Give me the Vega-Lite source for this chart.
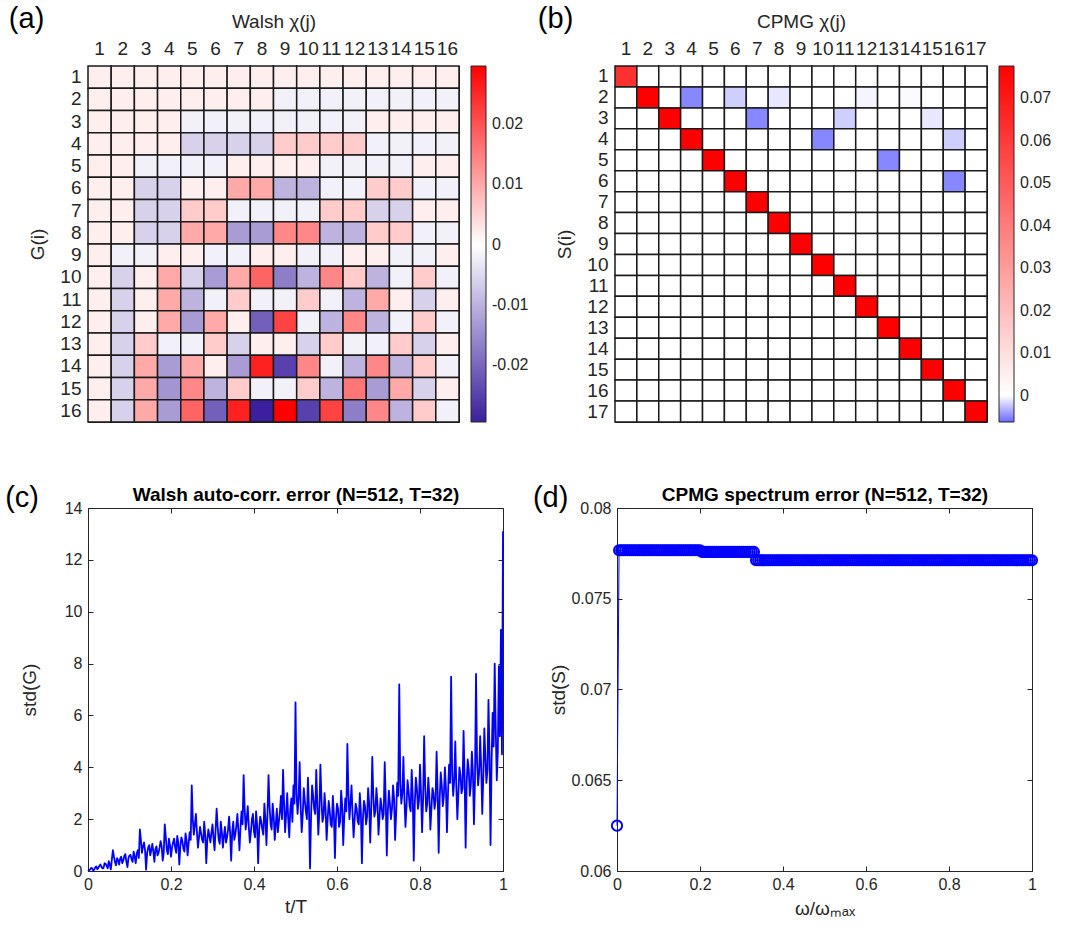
{
"$schema":"https://vega.github.io/schema/vega-lite/v6.json",
"padding":{"left":4,"top":4,"right":0,"bottom":0},
"config":{"font":"Liberation Sans","view":{"stroke":"#262626","strokeWidth":1},
"axis":{"labelFontSize":19,"titleFontSize":19,"labelColor":"#262626","titleColor":"#262626","titleFontWeight":"normal","grid":false,"domainColor":"#262626","tickColor":"#262626","labelFont":"Liberation Sans","titleFont":"Liberation Sans","labelFlush":false},
"legend":{"labelFontSize":16,"labelColor":"#262626","labelFont":"Liberation Sans"},
"title":{"fontSize":29,"fontWeight":"normal","color":"#000000","anchor":"start","font":"Liberation Sans"}},
"vconcat":[
{"hconcat":[
{"width":371,"height":356,
"title":{"text":"(a)","frame":"bounds","dx":-20,"dy":26},
"data":{"values":[
{"i":1,"j":1,"v":0.002},{"i":1,"j":2,"v":0.002},{"i":1,"j":3,"v":0.002},{"i":1,"j":4,"v":0.002},{"i":1,"j":5,"v":0.002},{"i":1,"j":6,"v":0.002},{"i":1,"j":7,"v":0.002},{"i":1,"j":8,"v":0.002},{"i":1,"j":9,"v":0.002},{"i":1,"j":10,"v":0.002},{"i":1,"j":11,"v":0.002},{"i":1,"j":12,"v":0.002},{"i":1,"j":13,"v":0.002},{"i":1,"j":14,"v":0.002},{"i":1,"j":15,"v":0.002},{"i":1,"j":16,"v":0.002},
{"i":2,"j":1,"v":0.002},{"i":2,"j":2,"v":0.002},{"i":2,"j":3,"v":0.002},{"i":2,"j":4,"v":0.002},{"i":2,"j":5,"v":0.002},{"i":2,"j":6,"v":0.002},{"i":2,"j":7,"v":0.002},{"i":2,"j":8,"v":0.002},{"i":2,"j":9,"v":-0.002},{"i":2,"j":10,"v":-0.002},{"i":2,"j":11,"v":-0.002},{"i":2,"j":12,"v":-0.002},{"i":2,"j":13,"v":-0.002},{"i":2,"j":14,"v":-0.002},{"i":2,"j":15,"v":-0.002},{"i":2,"j":16,"v":-0.002},
{"i":3,"j":1,"v":0.002},{"i":3,"j":2,"v":0.002},{"i":3,"j":3,"v":0.002},{"i":3,"j":4,"v":0.002},{"i":3,"j":5,"v":-0.002},{"i":3,"j":6,"v":-0.002},{"i":3,"j":7,"v":-0.002},{"i":3,"j":8,"v":-0.002},{"i":3,"j":9,"v":-0.002},{"i":3,"j":10,"v":-0.002},{"i":3,"j":11,"v":-0.002},{"i":3,"j":12,"v":-0.002},{"i":3,"j":13,"v":0.002},{"i":3,"j":14,"v":0.002},{"i":3,"j":15,"v":0.002},{"i":3,"j":16,"v":0.002},
{"i":4,"j":1,"v":0.002},{"i":4,"j":2,"v":0.002},{"i":4,"j":3,"v":0.002},{"i":4,"j":4,"v":0.002},{"i":4,"j":5,"v":-0.006},{"i":4,"j":6,"v":-0.006},{"i":4,"j":7,"v":-0.006},{"i":4,"j":8,"v":-0.006},{"i":4,"j":9,"v":0.006},{"i":4,"j":10,"v":0.006},{"i":4,"j":11,"v":0.006},{"i":4,"j":12,"v":0.006},{"i":4,"j":13,"v":-0.002},{"i":4,"j":14,"v":-0.002},{"i":4,"j":15,"v":-0.002},{"i":4,"j":16,"v":-0.002},
{"i":5,"j":1,"v":0.002},{"i":5,"j":2,"v":0.002},{"i":5,"j":3,"v":-0.002},{"i":5,"j":4,"v":-0.002},{"i":5,"j":5,"v":-0.002},{"i":5,"j":6,"v":-0.002},{"i":5,"j":7,"v":0.002},{"i":5,"j":8,"v":0.002},{"i":5,"j":9,"v":0.002},{"i":5,"j":10,"v":0.002},{"i":5,"j":11,"v":-0.002},{"i":5,"j":12,"v":-0.002},{"i":5,"j":13,"v":-0.002},{"i":5,"j":14,"v":-0.002},{"i":5,"j":15,"v":0.002},{"i":5,"j":16,"v":0.002},
{"i":6,"j":1,"v":0.002},{"i":6,"j":2,"v":0.002},{"i":6,"j":3,"v":-0.006},{"i":6,"j":4,"v":-0.006},{"i":6,"j":5,"v":0.002},{"i":6,"j":6,"v":0.002},{"i":6,"j":7,"v":0.01},{"i":6,"j":8,"v":0.01},{"i":6,"j":9,"v":-0.01},{"i":6,"j":10,"v":-0.01},{"i":6,"j":11,"v":-0.002},{"i":6,"j":12,"v":-0.002},{"i":6,"j":13,"v":0.006},{"i":6,"j":14,"v":0.006},{"i":6,"j":15,"v":-0.002},{"i":6,"j":16,"v":-0.002},
{"i":7,"j":1,"v":0.002},{"i":7,"j":2,"v":0.002},{"i":7,"j":3,"v":-0.006},{"i":7,"j":4,"v":-0.006},{"i":7,"j":5,"v":0.006},{"i":7,"j":6,"v":0.006},{"i":7,"j":7,"v":-0.002},{"i":7,"j":8,"v":-0.002},{"i":7,"j":9,"v":-0.002},{"i":7,"j":10,"v":-0.002},{"i":7,"j":11,"v":0.006},{"i":7,"j":12,"v":0.006},{"i":7,"j":13,"v":-0.006},{"i":7,"j":14,"v":-0.006},{"i":7,"j":15,"v":0.002},{"i":7,"j":16,"v":0.002},
{"i":8,"j":1,"v":0.002},{"i":8,"j":2,"v":0.002},{"i":8,"j":3,"v":-0.006},{"i":8,"j":4,"v":-0.006},{"i":8,"j":5,"v":0.01},{"i":8,"j":6,"v":0.01},{"i":8,"j":7,"v":-0.013},{"i":8,"j":8,"v":-0.013},{"i":8,"j":9,"v":0.014},{"i":8,"j":10,"v":0.014},{"i":8,"j":11,"v":-0.01},{"i":8,"j":12,"v":-0.01},{"i":8,"j":13,"v":0.006},{"i":8,"j":14,"v":0.006},{"i":8,"j":15,"v":-0.002},{"i":8,"j":16,"v":-0.002},
{"i":9,"j":1,"v":0.002},{"i":9,"j":2,"v":-0.002},{"i":9,"j":3,"v":-0.002},{"i":9,"j":4,"v":0.002},{"i":9,"j":5,"v":0.002},{"i":9,"j":6,"v":-0.002},{"i":9,"j":7,"v":-0.002},{"i":9,"j":8,"v":0.002},{"i":9,"j":9,"v":0.002},{"i":9,"j":10,"v":-0.002},{"i":9,"j":11,"v":-0.002},{"i":9,"j":12,"v":0.002},{"i":9,"j":13,"v":0.002},{"i":9,"j":14,"v":-0.002},{"i":9,"j":15,"v":-0.002},{"i":9,"j":16,"v":0.002},
{"i":10,"j":1,"v":0.002},{"i":10,"j":2,"v":-0.006},{"i":10,"j":3,"v":0.002},{"i":10,"j":4,"v":0.01},{"i":10,"j":5,"v":-0.006},{"i":10,"j":6,"v":-0.013},{"i":10,"j":7,"v":0.01},{"i":10,"j":8,"v":0.018},{"i":10,"j":9,"v":-0.017},{"i":10,"j":10,"v":-0.01},{"i":10,"j":11,"v":0.014},{"i":10,"j":12,"v":0.006},{"i":10,"j":13,"v":-0.01},{"i":10,"j":14,"v":-0.002},{"i":10,"j":15,"v":0.006},{"i":10,"j":16,"v":-0.002},
{"i":11,"j":1,"v":0.002},{"i":11,"j":2,"v":-0.006},{"i":11,"j":3,"v":0.002},{"i":11,"j":4,"v":0.01},{"i":11,"j":5,"v":-0.01},{"i":11,"j":6,"v":-0.002},{"i":11,"j":7,"v":0.006},{"i":11,"j":8,"v":-0.002},{"i":11,"j":9,"v":-0.002},{"i":11,"j":10,"v":0.006},{"i":11,"j":11,"v":-0.002},{"i":11,"j":12,"v":-0.01},{"i":11,"j":13,"v":0.01},{"i":11,"j":14,"v":0.002},{"i":11,"j":15,"v":-0.006},{"i":11,"j":16,"v":0.002},
{"i":12,"j":1,"v":0.002},{"i":12,"j":2,"v":-0.006},{"i":12,"j":3,"v":0.002},{"i":12,"j":4,"v":0.01},{"i":12,"j":5,"v":-0.013},{"i":12,"j":6,"v":0.01},{"i":12,"j":7,"v":0.002},{"i":12,"j":8,"v":-0.021},{"i":12,"j":9,"v":0.022},{"i":12,"j":10,"v":-0.002},{"i":12,"j":11,"v":-0.01},{"i":12,"j":12,"v":0.014},{"i":12,"j":13,"v":-0.01},{"i":12,"j":14,"v":-0.002},{"i":12,"j":15,"v":0.006},{"i":12,"j":16,"v":-0.002},
{"i":13,"j":1,"v":0.002},{"i":13,"j":2,"v":-0.006},{"i":13,"j":3,"v":0.006},{"i":13,"j":4,"v":-0.002},{"i":13,"j":5,"v":-0.002},{"i":13,"j":6,"v":0.006},{"i":13,"j":7,"v":-0.006},{"i":13,"j":8,"v":0.002},{"i":13,"j":9,"v":0.002},{"i":13,"j":10,"v":-0.006},{"i":13,"j":11,"v":0.006},{"i":13,"j":12,"v":-0.002},{"i":13,"j":13,"v":-0.002},{"i":13,"j":14,"v":0.006},{"i":13,"j":15,"v":-0.006},{"i":13,"j":16,"v":0.002},
{"i":14,"j":1,"v":0.002},{"i":14,"j":2,"v":-0.006},{"i":14,"j":3,"v":0.01},{"i":14,"j":4,"v":-0.013},{"i":14,"j":5,"v":0.01},{"i":14,"j":6,"v":0.002},{"i":14,"j":7,"v":-0.013},{"i":14,"j":8,"v":0.026},{"i":14,"j":9,"v":-0.025},{"i":14,"j":10,"v":0.014},{"i":14,"j":11,"v":-0.002},{"i":14,"j":12,"v":-0.01},{"i":14,"j":13,"v":0.014},{"i":14,"j":14,"v":-0.01},{"i":14,"j":15,"v":0.006},{"i":14,"j":16,"v":-0.002},
{"i":15,"j":1,"v":0.002},{"i":15,"j":2,"v":-0.006},{"i":15,"j":3,"v":0.01},{"i":15,"j":4,"v":-0.014},{"i":15,"j":5,"v":0.014},{"i":15,"j":6,"v":-0.01},{"i":15,"j":7,"v":0.006},{"i":15,"j":8,"v":-0.002},{"i":15,"j":9,"v":-0.002},{"i":15,"j":10,"v":0.006},{"i":15,"j":11,"v":-0.01},{"i":15,"j":12,"v":0.016},{"i":15,"j":13,"v":-0.013},{"i":15,"j":14,"v":0.01},{"i":15,"j":15,"v":-0.006},{"i":15,"j":16,"v":0.002},
{"i":16,"j":1,"v":0.002},{"i":16,"j":2,"v":-0.006},{"i":16,"j":3,"v":0.01},{"i":16,"j":4,"v":-0.013},{"i":16,"j":5,"v":0.018},{"i":16,"j":6,"v":-0.021},{"i":16,"j":7,"v":0.026},{"i":16,"j":8,"v":-0.0295},{"i":16,"j":9,"v":0.0297},{"i":16,"j":10,"v":-0.025},{"i":16,"j":11,"v":0.022},{"i":16,"j":12,"v":-0.017},{"i":16,"j":13,"v":0.014},{"i":16,"j":14,"v":-0.01},{"i":16,"j":15,"v":0.006},{"i":16,"j":16,"v":-0.002}
]},
"mark":{"type":"rect","stroke":"#1a1a1a","strokeWidth":1.5},
"encoding":{
"x":{"field":"j","type":"ordinal","axis":{"orient":"top","title":"Walsh χ(j)","labelAngle":0,"ticks":false,"domain":false,"labelPadding":8,"titlePadding":8,"labelOverlap":false}},
"y":{"field":"i","type":"ordinal","axis":{"title":"G(i)","ticks":false,"domain":false,"labelPadding":7,"titlePadding":12,"labelOverlap":false}},
"color":{"field":"v","type":"quantitative","scale":{"domain":[-0.0295,0,0.0297],"range":["#3b1f9e","#ffffff","#ff0000"],"interpolate":"rgb"},
"legend":{"title":null,"values":[-0.02,-0.01,0,0.01,0.02],"gradientLength":356,"gradientThickness":15,"offset":12,"labelOffset":6,"labelOverlap":false,"gradientStrokeColor":"#262626","gradientStrokeWidth":1,"labelExpr":"(datum.value < 0 ? '-' : '') + format(abs(datum.value), '.2~f')"}}}},
{"width":372,"height":356,
"title":{"text":"(b)","frame":"bounds","dx":-18,"dy":26},
"data":{"values":[
{"i":1,"j":1,"v":0.063},{"i":1,"j":2,"v":0},{"i":1,"j":3,"v":0},{"i":1,"j":4,"v":0},{"i":1,"j":5,"v":0},{"i":1,"j":6,"v":0},{"i":1,"j":7,"v":0},{"i":1,"j":8,"v":0},{"i":1,"j":9,"v":0},{"i":1,"j":10,"v":0},{"i":1,"j":11,"v":0},{"i":1,"j":12,"v":0},{"i":1,"j":13,"v":0},{"i":1,"j":14,"v":0},{"i":1,"j":15,"v":0},{"i":1,"j":16,"v":0},{"i":1,"j":17,"v":0},
{"i":2,"j":1,"v":0},{"i":2,"j":2,"v":0.0776},{"i":2,"j":3,"v":0},{"i":2,"j":4,"v":-0.005},{"i":2,"j":5,"v":0},{"i":2,"j":6,"v":-0.002},{"i":2,"j":7,"v":0},{"i":2,"j":8,"v":-0.001},{"i":2,"j":9,"v":0},{"i":2,"j":10,"v":0},{"i":2,"j":11,"v":0},{"i":2,"j":12,"v":-0.0004},{"i":2,"j":13,"v":0},{"i":2,"j":14,"v":-0.0002},{"i":2,"j":15,"v":0},{"i":2,"j":16,"v":0.0003},{"i":2,"j":17,"v":0},
{"i":3,"j":1,"v":0},{"i":3,"j":2,"v":0},{"i":3,"j":3,"v":0.0776},{"i":3,"j":4,"v":0},{"i":3,"j":5,"v":0},{"i":3,"j":6,"v":0},{"i":3,"j":7,"v":-0.005},{"i":3,"j":8,"v":0},{"i":3,"j":9,"v":0},{"i":3,"j":10,"v":0},{"i":3,"j":11,"v":-0.002},{"i":3,"j":12,"v":0},{"i":3,"j":13,"v":0},{"i":3,"j":14,"v":0},{"i":3,"j":15,"v":-0.001},{"i":3,"j":16,"v":0},{"i":3,"j":17,"v":0},
{"i":4,"j":1,"v":0},{"i":4,"j":2,"v":0},{"i":4,"j":3,"v":0},{"i":4,"j":4,"v":0.0776},{"i":4,"j":5,"v":0},{"i":4,"j":6,"v":0},{"i":4,"j":7,"v":0},{"i":4,"j":8,"v":0},{"i":4,"j":9,"v":0},{"i":4,"j":10,"v":-0.005},{"i":4,"j":11,"v":0},{"i":4,"j":12,"v":0},{"i":4,"j":13,"v":0},{"i":4,"j":14,"v":0},{"i":4,"j":15,"v":0},{"i":4,"j":16,"v":-0.002},{"i":4,"j":17,"v":0},
{"i":5,"j":1,"v":0},{"i":5,"j":2,"v":0},{"i":5,"j":3,"v":0},{"i":5,"j":4,"v":0},{"i":5,"j":5,"v":0.0776},{"i":5,"j":6,"v":0},{"i":5,"j":7,"v":0},{"i":5,"j":8,"v":0},{"i":5,"j":9,"v":0},{"i":5,"j":10,"v":0},{"i":5,"j":11,"v":0},{"i":5,"j":12,"v":0},{"i":5,"j":13,"v":-0.005},{"i":5,"j":14,"v":0},{"i":5,"j":15,"v":0},{"i":5,"j":16,"v":0},{"i":5,"j":17,"v":0},
{"i":6,"j":1,"v":0},{"i":6,"j":2,"v":0},{"i":6,"j":3,"v":0},{"i":6,"j":4,"v":0},{"i":6,"j":5,"v":0},{"i":6,"j":6,"v":0.0776},{"i":6,"j":7,"v":0},{"i":6,"j":8,"v":0},{"i":6,"j":9,"v":0},{"i":6,"j":10,"v":0},{"i":6,"j":11,"v":0},{"i":6,"j":12,"v":0},{"i":6,"j":13,"v":0},{"i":6,"j":14,"v":0},{"i":6,"j":15,"v":0},{"i":6,"j":16,"v":-0.005},{"i":6,"j":17,"v":0},
{"i":7,"j":1,"v":0},{"i":7,"j":2,"v":0},{"i":7,"j":3,"v":0},{"i":7,"j":4,"v":0},{"i":7,"j":5,"v":0},{"i":7,"j":6,"v":0},{"i":7,"j":7,"v":0.0776},{"i":7,"j":8,"v":0},{"i":7,"j":9,"v":0},{"i":7,"j":10,"v":0},{"i":7,"j":11,"v":0},{"i":7,"j":12,"v":0},{"i":7,"j":13,"v":0},{"i":7,"j":14,"v":0},{"i":7,"j":15,"v":0},{"i":7,"j":16,"v":0},{"i":7,"j":17,"v":0},
{"i":8,"j":1,"v":0},{"i":8,"j":2,"v":0},{"i":8,"j":3,"v":0},{"i":8,"j":4,"v":0},{"i":8,"j":5,"v":0},{"i":8,"j":6,"v":0},{"i":8,"j":7,"v":0},{"i":8,"j":8,"v":0.0776},{"i":8,"j":9,"v":0},{"i":8,"j":10,"v":0},{"i":8,"j":11,"v":0},{"i":8,"j":12,"v":0},{"i":8,"j":13,"v":0},{"i":8,"j":14,"v":0},{"i":8,"j":15,"v":0},{"i":8,"j":16,"v":0},{"i":8,"j":17,"v":0},
{"i":9,"j":1,"v":0},{"i":9,"j":2,"v":0},{"i":9,"j":3,"v":0},{"i":9,"j":4,"v":0},{"i":9,"j":5,"v":0},{"i":9,"j":6,"v":0},{"i":9,"j":7,"v":0},{"i":9,"j":8,"v":0},{"i":9,"j":9,"v":0.0776},{"i":9,"j":10,"v":0},{"i":9,"j":11,"v":0},{"i":9,"j":12,"v":0},{"i":9,"j":13,"v":0},{"i":9,"j":14,"v":0},{"i":9,"j":15,"v":0},{"i":9,"j":16,"v":0},{"i":9,"j":17,"v":0},
{"i":10,"j":1,"v":0},{"i":10,"j":2,"v":0},{"i":10,"j":3,"v":0},{"i":10,"j":4,"v":0},{"i":10,"j":5,"v":0},{"i":10,"j":6,"v":0},{"i":10,"j":7,"v":0},{"i":10,"j":8,"v":0},{"i":10,"j":9,"v":0},{"i":10,"j":10,"v":0.0776},{"i":10,"j":11,"v":0},{"i":10,"j":12,"v":0},{"i":10,"j":13,"v":0},{"i":10,"j":14,"v":0},{"i":10,"j":15,"v":0},{"i":10,"j":16,"v":0},{"i":10,"j":17,"v":0},
{"i":11,"j":1,"v":0},{"i":11,"j":2,"v":0},{"i":11,"j":3,"v":0},{"i":11,"j":4,"v":0},{"i":11,"j":5,"v":0},{"i":11,"j":6,"v":0},{"i":11,"j":7,"v":0},{"i":11,"j":8,"v":0},{"i":11,"j":9,"v":0},{"i":11,"j":10,"v":0},{"i":11,"j":11,"v":0.0776},{"i":11,"j":12,"v":0},{"i":11,"j":13,"v":0},{"i":11,"j":14,"v":0},{"i":11,"j":15,"v":0},{"i":11,"j":16,"v":0},{"i":11,"j":17,"v":0},
{"i":12,"j":1,"v":0},{"i":12,"j":2,"v":0},{"i":12,"j":3,"v":0},{"i":12,"j":4,"v":0},{"i":12,"j":5,"v":0},{"i":12,"j":6,"v":0},{"i":12,"j":7,"v":0},{"i":12,"j":8,"v":0},{"i":12,"j":9,"v":0},{"i":12,"j":10,"v":0},{"i":12,"j":11,"v":0},{"i":12,"j":12,"v":0.0776},{"i":12,"j":13,"v":0},{"i":12,"j":14,"v":0},{"i":12,"j":15,"v":0},{"i":12,"j":16,"v":0},{"i":12,"j":17,"v":0},
{"i":13,"j":1,"v":0},{"i":13,"j":2,"v":0},{"i":13,"j":3,"v":0},{"i":13,"j":4,"v":0},{"i":13,"j":5,"v":0},{"i":13,"j":6,"v":0},{"i":13,"j":7,"v":0},{"i":13,"j":8,"v":0},{"i":13,"j":9,"v":0},{"i":13,"j":10,"v":0},{"i":13,"j":11,"v":0},{"i":13,"j":12,"v":0},{"i":13,"j":13,"v":0.0776},{"i":13,"j":14,"v":0},{"i":13,"j":15,"v":0},{"i":13,"j":16,"v":0},{"i":13,"j":17,"v":0},
{"i":14,"j":1,"v":0},{"i":14,"j":2,"v":0},{"i":14,"j":3,"v":0},{"i":14,"j":4,"v":0},{"i":14,"j":5,"v":0},{"i":14,"j":6,"v":0},{"i":14,"j":7,"v":0},{"i":14,"j":8,"v":0},{"i":14,"j":9,"v":0},{"i":14,"j":10,"v":0},{"i":14,"j":11,"v":0},{"i":14,"j":12,"v":0},{"i":14,"j":13,"v":0},{"i":14,"j":14,"v":0.0776},{"i":14,"j":15,"v":0},{"i":14,"j":16,"v":0},{"i":14,"j":17,"v":0},
{"i":15,"j":1,"v":0},{"i":15,"j":2,"v":0},{"i":15,"j":3,"v":0},{"i":15,"j":4,"v":0},{"i":15,"j":5,"v":0},{"i":15,"j":6,"v":0},{"i":15,"j":7,"v":0},{"i":15,"j":8,"v":0},{"i":15,"j":9,"v":0},{"i":15,"j":10,"v":0},{"i":15,"j":11,"v":0},{"i":15,"j":12,"v":0},{"i":15,"j":13,"v":0},{"i":15,"j":14,"v":0},{"i":15,"j":15,"v":0.0776},{"i":15,"j":16,"v":0},{"i":15,"j":17,"v":0},
{"i":16,"j":1,"v":0},{"i":16,"j":2,"v":0},{"i":16,"j":3,"v":0},{"i":16,"j":4,"v":0},{"i":16,"j":5,"v":0},{"i":16,"j":6,"v":0},{"i":16,"j":7,"v":0},{"i":16,"j":8,"v":0},{"i":16,"j":9,"v":0},{"i":16,"j":10,"v":0},{"i":16,"j":11,"v":0},{"i":16,"j":12,"v":0},{"i":16,"j":13,"v":0},{"i":16,"j":14,"v":0},{"i":16,"j":15,"v":0},{"i":16,"j":16,"v":0.0776},{"i":16,"j":17,"v":0},
{"i":17,"j":1,"v":0},{"i":17,"j":2,"v":0},{"i":17,"j":3,"v":0},{"i":17,"j":4,"v":0},{"i":17,"j":5,"v":0},{"i":17,"j":6,"v":0},{"i":17,"j":7,"v":0},{"i":17,"j":8,"v":0},{"i":17,"j":9,"v":0},{"i":17,"j":10,"v":0},{"i":17,"j":11,"v":0},{"i":17,"j":12,"v":0},{"i":17,"j":13,"v":0},{"i":17,"j":14,"v":0},{"i":17,"j":15,"v":0},{"i":17,"j":16,"v":0},{"i":17,"j":17,"v":0.0776}
]},
"mark":{"type":"rect","stroke":"#1a1a1a","strokeWidth":1.5},
"encoding":{
"x":{"field":"j","type":"ordinal","axis":{"orient":"top","title":"CPMG χ(j)","labelAngle":0,"ticks":false,"domain":false,"labelPadding":8,"titlePadding":8,"labelOverlap":false}},
"y":{"field":"i","type":"ordinal","axis":{"title":"S(i)","ticks":false,"domain":false,"labelPadding":7,"titlePadding":12,"labelOverlap":false}},
"color":{"field":"v","type":"quantitative","scale":{"domain":[-0.0062,0,0.0776],"range":["#6a6aff","#ffffff","#ff0000"],"interpolate":"rgb"},
"legend":{"title":null,"values":[0,0.01,0.02,0.03,0.04,0.05,0.06,0.07],"gradientLength":356,"gradientThickness":15,"offset":12,"labelOffset":6,"labelOverlap":false,"gradientStrokeColor":"#262626","gradientStrokeWidth":1,"labelExpr":"format(datum.value, '.2~f')"}}}}
],"spacing":7,"resolve":{"scale":{"color":"independent"},"legend":{"color":"independent"}}},
{"hconcat":[
{"width":415,"height":363,
"title":{"text":"(c)","frame":"bounds","dx":-15,"dy":31},
"data":{"values":[
{"t":0,"g":0},{"t":0.0025,"g":0.03},{"t":0.005,"g":0.06},{"t":0.0075,"g":0.12},{"t":0.01,"g":0.1},{"t":0.0125,"g":0.02},{"t":0.015,"g":0.05},{"t":0.0175,"g":0.14},{"t":0.02,"g":0.18},{"t":0.0225,"g":0.07},
{"t":0.025,"g":0.12},{"t":0.0275,"g":0.2},{"t":0.03,"g":0.25},{"t":0.0325,"g":0.16},{"t":0.035,"g":0.1},{"t":0.0375,"g":0.12},{"t":0.04,"g":0.3},{"t":0.0425,"g":0.28},{"t":0.045,"g":0.2},{"t":0.0475,"g":0.1},
{"t":0.05,"g":0.38},{"t":0.0525,"g":0.25},{"t":0.055,"g":0.06},{"t":0.0575,"g":0.45},{"t":0.06,"g":0.8},{"t":0.0625,"g":0.55},{"t":0.065,"g":0.35},{"t":0.0675,"g":0.22},{"t":0.07,"g":0.5},{"t":0.0725,"g":0.42},
{"t":0.075,"g":0.25},{"t":0.0775,"g":0.48},{"t":0.08,"g":0.55},{"t":0.0825,"g":0.3},{"t":0.085,"g":0.4},{"t":0.0875,"g":0.58},{"t":0.09,"g":0.65},{"t":0.0925,"g":0.35},{"t":0.095,"g":0.15},{"t":0.0975,"g":0.5},
{"t":0.1,"g":0.6},{"t":0.1025,"g":0.62},{"t":0.105,"g":0.45},{"t":0.1075,"g":0.35},{"t":0.11,"g":0.75},{"t":0.1125,"g":0.55},{"t":0.115,"g":0.3},{"t":0.1175,"g":0.68},{"t":0.12,"g":0.8},{"t":0.1225,"g":0.5},
{"t":0.125,"g":1.6},{"t":0.1275,"g":1.2},{"t":0.13,"g":0.7},{"t":0.1325,"g":0.95},{"t":0.135,"g":1.1},{"t":0.1375,"g":0.8},{"t":0.14,"g":0.05},{"t":0.1425,"g":0.7},{"t":0.145,"g":0.9},{"t":0.1475,"g":1.0},
{"t":0.15,"g":0.6},{"t":0.1525,"g":0.8},{"t":0.155,"g":1.05},{"t":0.1575,"g":0.75},{"t":0.16,"g":0.35},{"t":0.1625,"g":0.85},{"t":0.165,"g":0.95},{"t":0.1675,"g":0.6},{"t":0.17,"g":0.7},{"t":0.1725,"g":0.9},
{"t":0.175,"g":1.15},{"t":0.1775,"g":0.95},{"t":0.18,"g":0.4},{"t":0.1825,"g":0.7},{"t":0.185,"g":1.8},{"t":0.1875,"g":1.3},{"t":0.19,"g":0.8},{"t":0.1925,"g":0.65},{"t":0.195,"g":1.25},{"t":0.1975,"g":1.0},
{"t":0.2,"g":0.55},{"t":0.2025,"g":0.9},{"t":0.205,"g":1.1},{"t":0.2075,"g":1.25},{"t":0.21,"g":0.9},{"t":0.2125,"g":0.7},{"t":0.215,"g":1.35},{"t":0.2175,"g":1.1},{"t":0.22,"g":0.25},{"t":0.2225,"g":0.95},
{"t":0.225,"g":1.3},{"t":0.2275,"g":1.15},{"t":0.23,"g":0.85},{"t":0.2325,"g":0.75},{"t":0.235,"g":1.45},{"t":0.2375,"g":1.2},{"t":0.24,"g":0.6},{"t":0.2425,"g":1.05},{"t":0.245,"g":1.5},{"t":0.2475,"g":1.2},
{"t":0.25,"g":3.3},{"t":0.2525,"g":2.0},{"t":0.255,"g":1.4},{"t":0.2575,"g":1.8},{"t":0.26,"g":2.2},{"t":0.2625,"g":1.5},{"t":0.265,"g":0.9},{"t":0.2675,"g":1.3},{"t":0.27,"g":1.7},{"t":0.2725,"g":1.45},
{"t":0.275,"g":1.2},{"t":0.2775,"g":1.1},{"t":0.28,"g":1.9},{"t":0.2825,"g":1.4},{"t":0.285,"g":0.3},{"t":0.2875,"g":1.2},{"t":0.29,"g":1.6},{"t":0.2925,"g":1.35},{"t":0.295,"g":1.1},{"t":0.2975,"g":1.5},
{"t":0.3,"g":1.8},{"t":0.3025,"g":1.25},{"t":0.305,"g":0.8},{"t":0.3075,"g":1.6},{"t":0.31,"g":2.4},{"t":0.3125,"g":1.7},{"t":0.315,"g":1.2},{"t":0.3175,"g":1.05},{"t":0.32,"g":1.9},{"t":0.3225,"g":1.5},
{"t":0.325,"g":0.9},{"t":0.3275,"g":1.35},{"t":0.33,"g":1.7},{"t":0.3325,"g":1.1},{"t":0.335,"g":1.3},{"t":0.3375,"g":1.6},{"t":0.34,"g":2.1},{"t":0.3425,"g":1.45},{"t":0.345,"g":0.4},{"t":0.3475,"g":1.5},
{"t":0.35,"g":1.9},{"t":0.3525,"g":1.2},{"t":0.355,"g":1.4},{"t":0.3575,"g":1.75},{"t":0.36,"g":2.2},{"t":0.3625,"g":1.5},{"t":0.365,"g":0.8},{"t":0.3675,"g":1.7},{"t":0.37,"g":2.3},{"t":0.3725,"g":1.8},
{"t":0.375,"g":3.7},{"t":0.3775,"g":2.4},{"t":0.38,"g":1.6},{"t":0.3825,"g":2.0},{"t":0.385,"g":2.5},{"t":0.3875,"g":1.7},{"t":0.39,"g":1.1},{"t":0.3925,"g":1.5},{"t":0.395,"g":2.0},{"t":0.3975,"g":2.2},
{"t":0.4,"g":1.5},{"t":0.4025,"g":1.3},{"t":0.405,"g":2.3},{"t":0.4075,"g":1.8},{"t":0.41,"g":0.3},{"t":0.4125,"g":1.6},{"t":0.415,"g":2.1},{"t":0.4175,"g":1.9},{"t":0.42,"g":1.6},{"t":0.4225,"g":1.4},
{"t":0.425,"g":2.6},{"t":0.4275,"g":2.0},{"t":0.43,"g":1.0},{"t":0.4325,"g":2.2},{"t":0.435,"g":3.7},{"t":0.4375,"g":2.5},{"t":0.44,"g":1.8},{"t":0.4425,"g":1.6},{"t":0.445,"g":2.6},{"t":0.4475,"g":2.1},
{"t":0.45,"g":1.2},{"t":0.4525,"g":1.8},{"t":0.455,"g":2.4},{"t":0.4575,"g":1.5},{"t":0.46,"g":1.9},{"t":0.4625,"g":2.3},{"t":0.465,"g":2.9},{"t":0.4675,"g":2.0},{"t":0.47,"g":3.9},{"t":0.4725,"g":2.6},
{"t":0.475,"g":1.5},{"t":0.4775,"g":2.2},{"t":0.48,"g":3.0},{"t":0.4825,"g":2.0},{"t":0.485,"g":1.3},{"t":0.4875,"g":2.4},{"t":0.49,"g":2.8},{"t":0.4925,"g":1.9},{"t":0.495,"g":3.3},{"t":0.4975,"g":2.6},
{"t":0.5,"g":6.5},{"t":0.5025,"g":3.0},{"t":0.505,"g":2.2},{"t":0.5075,"g":2.8},{"t":0.51,"g":4.2},{"t":0.5125,"g":2.5},{"t":0.515,"g":1.5},{"t":0.5175,"g":2.2},{"t":0.52,"g":3.2},{"t":0.5225,"g":2.7},
{"t":0.525,"g":2.3},{"t":0.5275,"g":2.0},{"t":0.53,"g":3.6},{"t":0.5325,"g":2.4},{"t":0.535,"g":0.1},{"t":0.5375,"g":2.1},{"t":0.54,"g":3.3},{"t":0.5425,"g":2.9},{"t":0.545,"g":2.4},{"t":0.5475,"g":2.2},
{"t":0.55,"g":3.9},{"t":0.5525,"g":2.6},{"t":0.555,"g":1.4},{"t":0.5575,"g":2.3},{"t":0.56,"g":4.1},{"t":0.5625,"g":2.8},{"t":0.565,"g":1.9},{"t":0.5675,"g":2.1},{"t":0.57,"g":3.0},{"t":0.5725,"g":2.4},
{"t":0.575,"g":1.2},{"t":0.5775,"g":2.0},{"t":0.58,"g":2.7},{"t":0.5825,"g":2.3},{"t":0.585,"g":1.8},{"t":0.5875,"g":1.7},{"t":0.59,"g":2.9},{"t":0.5925,"g":2.2},{"t":0.595,"g":0.5},{"t":0.5975,"g":2.0},
{"t":0.6,"g":2.6},{"t":0.6025,"g":2.4},{"t":0.605,"g":1.7},{"t":0.6075,"g":1.9},{"t":0.61,"g":3.1},{"t":0.6125,"g":2.5},{"t":0.615,"g":1.0},{"t":0.6175,"g":2.1},{"t":0.62,"g":2.8},{"t":0.6225,"g":2.3},
{"t":0.625,"g":4.9},{"t":0.6275,"g":3.0},{"t":0.63,"g":2.0},{"t":0.6325,"g":2.6},{"t":0.635,"g":3.3},{"t":0.6375,"g":2.2},{"t":0.64,"g":1.3},{"t":0.6425,"g":2.0},{"t":0.645,"g":2.6},{"t":0.6475,"g":2.4},
{"t":0.65,"g":1.9},{"t":0.6525,"g":1.8},{"t":0.655,"g":3.0},{"t":0.6575,"g":2.3},{"t":0.66,"g":0.3},{"t":0.6625,"g":2.0},{"t":0.665,"g":2.7},{"t":0.6675,"g":2.5},{"t":0.67,"g":1.8},{"t":0.6725,"g":2.1},
{"t":0.675,"g":3.2},{"t":0.6775,"g":2.6},{"t":0.68,"g":1.1},{"t":0.6825,"g":2.4},{"t":0.685,"g":4.4},{"t":0.6875,"g":2.9},{"t":0.69,"g":2.1},{"t":0.6925,"g":2.3},{"t":0.695,"g":3.2},{"t":0.6975,"g":2.6},
{"t":0.7,"g":1.4},{"t":0.7025,"g":2.1},{"t":0.705,"g":2.8},{"t":0.7075,"g":2.5},{"t":0.71,"g":2.0},{"t":0.7125,"g":2.2},{"t":0.715,"g":4.2},{"t":0.7175,"g":2.7},{"t":0.72,"g":0.6},{"t":0.7225,"g":2.3},
{"t":0.725,"g":3.1},{"t":0.7275,"g":2.6},{"t":0.73,"g":2.0},{"t":0.7325,"g":2.4},{"t":0.735,"g":3.3},{"t":0.7375,"g":2.8},{"t":0.74,"g":1.2},{"t":0.7425,"g":2.2},{"t":0.745,"g":3.4},{"t":0.7475,"g":2.9},
{"t":0.75,"g":7.2},{"t":0.7525,"g":3.4},{"t":0.755,"g":2.6},{"t":0.7575,"g":3.0},{"t":0.76,"g":4.4},{"t":0.7625,"g":2.8},{"t":0.765,"g":1.7},{"t":0.7675,"g":2.5},{"t":0.77,"g":3.5},{"t":0.7725,"g":3.1},
{"t":0.775,"g":2.5},{"t":0.7775,"g":2.3},{"t":0.78,"g":3.9},{"t":0.7825,"g":2.9},{"t":0.785,"g":0.4},{"t":0.7875,"g":2.6},{"t":0.79,"g":3.6},{"t":0.7925,"g":3.2},{"t":0.795,"g":2.4},{"t":0.7975,"g":2.7},
{"t":0.8,"g":4.1},{"t":0.8025,"g":3.0},{"t":0.805,"g":1.5},{"t":0.8075,"g":2.8},{"t":0.81,"g":5.2},{"t":0.8125,"g":3.3},{"t":0.815,"g":2.3},{"t":0.8175,"g":2.6},{"t":0.82,"g":3.6},{"t":0.8225,"g":2.9},
{"t":0.825,"g":1.6},{"t":0.8275,"g":2.4},{"t":0.83,"g":3.2},{"t":0.8325,"g":3.0},{"t":0.835,"g":2.4},{"t":0.8375,"g":2.7},{"t":0.84,"g":4.6},{"t":0.8425,"g":3.1},{"t":0.845,"g":0.7},{"t":0.8475,"g":2.8},
{"t":0.85,"g":3.8},{"t":0.8525,"g":3.3},{"t":0.855,"g":2.5},{"t":0.8575,"g":2.9},{"t":0.86,"g":4.0},{"t":0.8625,"g":3.2},{"t":0.865,"g":1.5},{"t":0.8675,"g":3.0},{"t":0.87,"g":4.1},{"t":0.8725,"g":3.4},
{"t":0.875,"g":7.5},{"t":0.8775,"g":3.8},{"t":0.88,"g":2.9},{"t":0.8825,"g":3.5},{"t":0.885,"g":5.0},{"t":0.8875,"g":3.3},{"t":0.89,"g":2.0},{"t":0.8925,"g":3.0},{"t":0.895,"g":4.0},{"t":0.8975,"g":3.7},
{"t":0.9,"g":3.0},{"t":0.9025,"g":3.2},{"t":0.905,"g":5.4},{"t":0.9075,"g":3.6},{"t":0.91,"g":0.9},{"t":0.9125,"g":3.4},{"t":0.915,"g":4.3},{"t":0.9175,"g":3.9},{"t":0.92,"g":2.9},{"t":0.9225,"g":3.3},
{"t":0.925,"g":4.6},{"t":0.9275,"g":3.8},{"t":0.93,"g":1.8},{"t":0.9325,"g":3.5},{"t":0.935,"g":7.6},{"t":0.9375,"g":4.2},{"t":0.94,"g":3.3},{"t":0.9425,"g":3.8},{"t":0.945,"g":5.2},{"t":0.9475,"g":4.0},
{"t":0.95,"g":2.2},{"t":0.9525,"g":3.6},{"t":0.955,"g":5.5},{"t":0.9575,"g":4.4},{"t":0.96,"g":3.4},{"t":0.9625,"g":3.9},{"t":0.965,"g":6.6},{"t":0.9675,"g":4.5},{"t":0.97,"g":1.0},{"t":0.9725,"g":4.2},
{"t":0.975,"g":6.1},{"t":0.9775,"g":4.8},{"t":0.98,"g":8.0},{"t":0.9825,"g":5.5},{"t":0.985,"g":3.5},{"t":0.9875,"g":4.6},{"t":0.99,"g":7.9},{"t":0.9925,"g":5.2},{"t":0.995,"g":9.3},{"t":0.9975,"g":4.5},
{"t":1,"g":13.1}
]},
"layer":[
{"mark":{"type":"line","color":"#0000ff","strokeWidth":1.8,"strokeJoin":"round"},
"encoding":{
"x":{"field":"t","type":"quantitative","scale":{"domain":[0,1],"nice":false},"axis":{"title":"t/T","values":[0,0.2,0.4,0.6,0.8,1],"format":"~g","tickSize":-5,"labelPadding":10,"titlePadding":5,"labelFontSize":16}},
"y":{"field":"g","type":"quantitative","scale":{"domain":[0,14],"nice":false},"axis":{"title":"std(G)","values":[0,2,4,6,8,10,12,14],"format":"~g","tickSize":-5,"labelPadding":11,"titlePadding":25,"labelFontSize":16}}}},
{"mark":{"type":"point","opacity":0},
"encoding":{
"x":{"field":"t","type":"quantitative","scale":{"domain":[0,1],"nice":false},"axis":{"orient":"top","values":[0,0.2,0.4,0.6,0.8,1],"labels":false,"tickSize":-5,"title":"Walsh auto-corr. error (N=512, T=32)","titleFontWeight":"bold","titleFontSize":19,"titleColor":"#000000","titlePadding":3}},
"y":{"field":"g","type":"quantitative","scale":{"domain":[0,14],"nice":false},"axis":{"orient":"right","values":[0,2,4,6,8,10,12,14],"labels":false,"tickSize":-5,"title":null}}}}
],
"resolve":{"axis":{"x":"independent","y":"independent"}}},
{"width":415,"height":363,
"title":{"text":"(d)","frame":"bounds","dx":-17,"dy":31},
"data":{"values":[
{"w":0,"s":0.0625},{"w":0.005,"s":0.07767},{"w":0.01,"s":0.07767},{"w":0.015,"s":0.07767},{"w":0.02,"s":0.07767},{"w":0.025,"s":0.07767},{"w":0.03,"s":0.07767},{"w":0.035,"s":0.07767},{"w":0.04,"s":0.07767},{"w":0.045,"s":0.07767},
{"w":0.05,"s":0.07767},{"w":0.055,"s":0.07767},{"w":0.06,"s":0.07767},{"w":0.065,"s":0.07767},{"w":0.07,"s":0.07767},{"w":0.075,"s":0.07767},{"w":0.08,"s":0.07767},{"w":0.085,"s":0.07767},{"w":0.09,"s":0.07767},{"w":0.095,"s":0.07767},
{"w":0.1,"s":0.07767},{"w":0.105,"s":0.07767},{"w":0.11,"s":0.07767},{"w":0.115,"s":0.07767},{"w":0.12,"s":0.07767},{"w":0.125,"s":0.07767},{"w":0.13,"s":0.07767},{"w":0.135,"s":0.07767},{"w":0.14,"s":0.07767},{"w":0.145,"s":0.07767},
{"w":0.15,"s":0.07767},{"w":0.155,"s":0.07767},{"w":0.16,"s":0.07767},{"w":0.165,"s":0.07767},{"w":0.17,"s":0.07767},{"w":0.175,"s":0.07767},{"w":0.18,"s":0.07767},{"w":0.185,"s":0.07767},{"w":0.19,"s":0.07767},{"w":0.195,"s":0.07767},
{"w":0.2,"s":0.07767},{"w":0.205,"s":0.07758},{"w":0.21,"s":0.07758},{"w":0.215,"s":0.07758},{"w":0.22,"s":0.07758},{"w":0.225,"s":0.07758},{"w":0.23,"s":0.07758},{"w":0.235,"s":0.07758},{"w":0.24,"s":0.07758},{"w":0.245,"s":0.07758},
{"w":0.25,"s":0.07758},{"w":0.255,"s":0.07758},{"w":0.26,"s":0.07758},{"w":0.265,"s":0.07758},{"w":0.27,"s":0.07758},{"w":0.275,"s":0.07758},{"w":0.28,"s":0.07758},{"w":0.285,"s":0.07758},{"w":0.29,"s":0.07758},{"w":0.295,"s":0.07758},
{"w":0.3,"s":0.07758},{"w":0.305,"s":0.07758},{"w":0.31,"s":0.07758},{"w":0.315,"s":0.07758},{"w":0.32,"s":0.07758},{"w":0.325,"s":0.07758},{"w":0.33,"s":0.07758},{"w":0.335,"s":0.07712},{"w":0.34,"s":0.07712},{"w":0.345,"s":0.07712},
{"w":0.35,"s":0.07712},{"w":0.355,"s":0.07712},{"w":0.36,"s":0.07712},{"w":0.365,"s":0.07712},{"w":0.37,"s":0.07712},{"w":0.375,"s":0.07712},{"w":0.38,"s":0.07712},{"w":0.385,"s":0.07712},{"w":0.39,"s":0.07712},{"w":0.395,"s":0.07712},
{"w":0.4,"s":0.07712},{"w":0.405,"s":0.07712},{"w":0.41,"s":0.07712},{"w":0.415,"s":0.07712},{"w":0.42,"s":0.07712},{"w":0.425,"s":0.07712},{"w":0.43,"s":0.07712},{"w":0.435,"s":0.07712},{"w":0.44,"s":0.07712},{"w":0.445,"s":0.07712},
{"w":0.45,"s":0.07712},{"w":0.455,"s":0.07712},{"w":0.46,"s":0.07712},{"w":0.465,"s":0.07712},{"w":0.47,"s":0.07712},{"w":0.475,"s":0.07712},{"w":0.48,"s":0.07712},{"w":0.485,"s":0.07712},{"w":0.49,"s":0.07712},{"w":0.495,"s":0.07712},
{"w":0.5,"s":0.07712},{"w":0.505,"s":0.07712},{"w":0.51,"s":0.07712},{"w":0.515,"s":0.07712},{"w":0.52,"s":0.07712},{"w":0.525,"s":0.07712},{"w":0.53,"s":0.07712},{"w":0.535,"s":0.07712},{"w":0.54,"s":0.07712},{"w":0.545,"s":0.07712},
{"w":0.55,"s":0.07712},{"w":0.555,"s":0.07712},{"w":0.56,"s":0.07712},{"w":0.565,"s":0.07712},{"w":0.57,"s":0.07712},{"w":0.575,"s":0.07712},{"w":0.58,"s":0.07712},{"w":0.585,"s":0.07712},{"w":0.59,"s":0.07712},{"w":0.595,"s":0.07712},
{"w":0.6,"s":0.07712},{"w":0.605,"s":0.07712},{"w":0.61,"s":0.07712},{"w":0.615,"s":0.07712},{"w":0.62,"s":0.07712},{"w":0.625,"s":0.07712},{"w":0.63,"s":0.07712},{"w":0.635,"s":0.07712},{"w":0.64,"s":0.07712},{"w":0.645,"s":0.07712},
{"w":0.65,"s":0.07712},{"w":0.655,"s":0.07712},{"w":0.66,"s":0.07712},{"w":0.665,"s":0.07712},{"w":0.67,"s":0.07712},{"w":0.675,"s":0.07712},{"w":0.68,"s":0.07712},{"w":0.685,"s":0.07712},{"w":0.69,"s":0.07712},{"w":0.695,"s":0.07712},
{"w":0.7,"s":0.07712},{"w":0.705,"s":0.07712},{"w":0.71,"s":0.07712},{"w":0.715,"s":0.07712},{"w":0.72,"s":0.07712},{"w":0.725,"s":0.07712},{"w":0.73,"s":0.07712},{"w":0.735,"s":0.07712},{"w":0.74,"s":0.07712},{"w":0.745,"s":0.07712},
{"w":0.75,"s":0.07712},{"w":0.755,"s":0.07712},{"w":0.76,"s":0.07712},{"w":0.765,"s":0.07712},{"w":0.77,"s":0.07712},{"w":0.775,"s":0.07712},{"w":0.78,"s":0.07712},{"w":0.785,"s":0.07712},{"w":0.79,"s":0.07712},{"w":0.795,"s":0.07712},
{"w":0.8,"s":0.07712},{"w":0.805,"s":0.07712},{"w":0.81,"s":0.07712},{"w":0.815,"s":0.07712},{"w":0.82,"s":0.07712},{"w":0.825,"s":0.07712},{"w":0.83,"s":0.07712},{"w":0.835,"s":0.07712},{"w":0.84,"s":0.07712},{"w":0.845,"s":0.07712},
{"w":0.85,"s":0.07712},{"w":0.855,"s":0.07712},{"w":0.86,"s":0.07712},{"w":0.865,"s":0.07712},{"w":0.87,"s":0.07712},{"w":0.875,"s":0.07712},{"w":0.88,"s":0.07712},{"w":0.885,"s":0.07712},{"w":0.89,"s":0.07712},{"w":0.895,"s":0.07712},
{"w":0.9,"s":0.07712},{"w":0.905,"s":0.07712},{"w":0.91,"s":0.07712},{"w":0.915,"s":0.07712},{"w":0.92,"s":0.07712},{"w":0.925,"s":0.07712},{"w":0.93,"s":0.07712},{"w":0.935,"s":0.07712},{"w":0.94,"s":0.07712},{"w":0.945,"s":0.07712},
{"w":0.95,"s":0.07712},{"w":0.955,"s":0.07712},{"w":0.96,"s":0.07712},{"w":0.965,"s":0.07712},{"w":0.97,"s":0.07712},{"w":0.975,"s":0.07712},{"w":0.98,"s":0.07712},{"w":0.985,"s":0.07712},{"w":0.99,"s":0.07712},{"w":0.995,"s":0.07712},
{"w":1,"s":0.07712}
]},
"layer":[
{"mark":{"type":"line","color":"#0000ff","strokeWidth":1},
"encoding":{
"x":{"field":"w","type":"quantitative","scale":{"domain":[0,1],"nice":false},"axis":{"title":"ω/ωₘₐₓ","values":[0,0.2,0.4,0.6,0.8,1],"format":"~g","tickSize":-5,"labelPadding":10,"titlePadding":7,"labelFontSize":16}},
"y":{"field":"s","type":"quantitative","scale":{"domain":[0.06,0.08],"nice":false,"zero":false},"axis":{"title":"std(S)","values":[0.06,0.065,0.07,0.075,0.08],"format":"~g","tickSize":-5,"labelPadding":11,"titlePadding":2,"labelFontSize":16}}}},
{"mark":{"type":"point","shape":"circle","filled":false,"color":"#0000ff","size":105,"strokeWidth":1.9,"opacity":1},
"encoding":{
"x":{"field":"w","type":"quantitative","scale":{"domain":[0,1],"nice":false},"axis":null},
"y":{"field":"s","type":"quantitative","scale":{"domain":[0.06,0.08],"nice":false,"zero":false},"axis":null}}},
{"mark":{"type":"point","opacity":0},
"encoding":{
"x":{"field":"w","type":"quantitative","scale":{"domain":[0,1],"nice":false},"axis":{"orient":"top","values":[0,0.2,0.4,0.6,0.8,1],"labels":false,"tickSize":-5,"title":"CPMG spectrum error (N=512, T=32)","titleFontWeight":"bold","titleFontSize":19,"titleColor":"#000000","titlePadding":3}},
"y":{"field":"s","type":"quantitative","scale":{"domain":[0.06,0.08],"nice":false,"zero":false},"axis":{"orient":"right","values":[0.06,0.065,0.07,0.075,0.08],"labels":false,"tickSize":-5,"title":null}}}}
],
"resolve":{"axis":{"x":"independent","y":"independent"}}}
],"spacing":24}
],"spacing":59}
